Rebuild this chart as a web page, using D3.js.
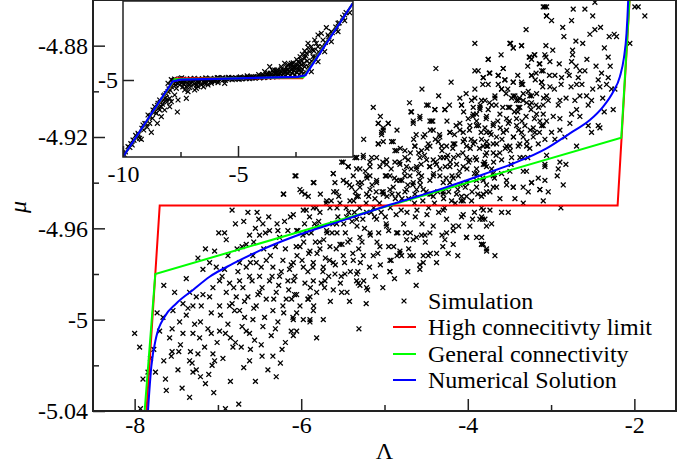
<!DOCTYPE html>
<html>
<head>
<meta charset="utf-8">
<script src="https://cdn.jsdelivr.net/npm/d3@7"></script>
<style>
  body { margin: 0; background: #fff; }
  svg text { font-family: "Liberation Serif", "Times New Roman", Times, serif; }
</style>
</head>
<body>
<div id="chart"></div>
<script>
// ---- data (Lambda, mu) ----
const lambdaDomain = [-8.5, -1.5];
const muDomain = [-5.04, -4.86];
const xMajor = [-8, -6, -4, -2];
const xMinor = [-7, -5, -3];
const yMajor = [-5.04, -5, -4.96, -4.92, -4.88];
const yMinor = [-5.02, -4.98, -4.94, -4.90];

const insetLambdaDomain = [-10, 0];
const insetMuDomain = [-7.25, -2.75];
const insetXMajor = [-10, -5];
const insetXMinor = [-7.5, -2.5];
const insetYMajor = [-5];

const legendLabels = ["Simulation", "High connecitivty limit", "General connectivity", "Numerical Solution"];

const highLimit = [[-7.858, -5.04], [-7.699, -4.95], [-2.201, -4.95], [-2.057, -4.86]];
const generalConn = [[-7.88, -5.04], [-7.752, -4.98], [-2.157, -4.9203], [-2.058, -4.86]];
const numerical = [[-7.84, -5.04], [-7.80, -5.0206], [-7.74, -5.0075], [-7.64, -4.9987], [-7.50, -4.9929],
  [-7.30, -4.987], [-7.10, -4.9812], [-6.82, -4.9755], [-6.50, -4.9698], [-6.10, -4.9638], [-5.50, -4.9565],
  [-4.935, -4.9497], [-4.30, -4.9425], [-3.80, -4.9362], [-3.454, -4.9316], [-3.054, -4.925], [-2.774, -4.9184],
  [-2.534, -4.9126], [-2.374, -4.9067], [-2.254, -4.9002], [-2.174, -4.8936], [-2.126, -4.8855],
  [-2.094, -4.8746], [-2.074, -4.86], [-2.065, -4.85]];

const simulation = [
  [-6.21,-4.945],[-6.64,-4.953],[-6.53,-4.953],[-6.79,-4.958],[-6.51,-4.956],[-6.39,-4.955],[-6.20,-4.957],[-6.55,-4.960],
  [-6.90,-4.965],[-6.62,-4.963],[-6.50,-4.963],[-6.38,-4.961],[-6.28,-4.961],[-6.16,-4.961],[-7.04,-4.970],[-7.24,-4.973],
  [-6.77,-4.969],[-6.66,-4.967],[-7.10,-4.975],[-7.18,-4.978],[-7.02,-4.977],[-6.92,-4.978],[-6.74,-4.975],[-6.66,-4.977],
  [-6.54,-4.975],[-6.42,-4.974],[-6.34,-4.977],[-6.22,-4.974],[-6.14,-4.978],[-7.65,-4.985],[-6.98,-4.983],[-6.86,-4.984],
  [-6.74,-4.983],[-6.62,-4.981],[-6.50,-4.981],[-6.38,-4.983],[-6.26,-4.981],[-6.16,-4.983],[-7.06,-4.986],[-7.34,-4.988],
  [-7.26,-4.990],[-7.10,-4.990],[-6.90,-4.988],[-6.78,-4.990],[-6.64,-4.990],[-6.50,-4.988],[-6.42,-4.991],[-6.30,-4.988],
  [-6.18,-4.991],[-7.42,-4.993],[-7.30,-4.994],[-7.20,-4.994],[-6.98,-4.994],[-6.86,-4.994],[-6.74,-4.996],[-6.54,-4.994],
  [-6.44,-4.999],[-6.34,-4.996],[-6.22,-4.994],[-7.73,-4.997],[-7.54,-4.996],[-7.66,-4.999],[-7.38,-4.998],[-7.28,-5.002],
  [-7.21,-5.001],[-7.08,-4.997],[-6.98,-5.005],[-6.88,-5.002],[-6.80,-4.996],[-6.68,-4.999],[-6.58,-5.000],[-6.46,-5.003],
  [-6.28,-5.001],[-6.10,-4.999],[-8.00,-5.006],[-7.55,-5.004],[-7.46,-5.001],[-7.42,-5.006],[-7.30,-5.006],[-7.22,-5.008],
  [-7.08,-5.006],[-7.01,-5.010],[-6.91,-5.006],[-6.79,-5.010],[-6.66,-5.005],[-6.62,-5.006],[-6.56,-5.009],[-6.36,-5.007],
  [-6.19,-5.010],[-7.94,-5.012],[-7.55,-5.014],[-7.47,-5.014],[-7.33,-5.014],[-7.16,-5.012],[-7.06,-5.015],[-6.82,-5.012],
  [-6.72,-5.012],[-6.61,-5.013],[-6.23,-5.013],[-6.34,-5.016],[-7.77,-5.013],[-7.65,-5.018],[-7.56,-5.016],[-7.34,-5.018],
  [-7.31,-5.019],[-7.04,-5.018],[-7.07,-5.020],[-6.62,-5.018],[-7.75,-5.023],[-7.84,-5.023],[-7.90,-5.026],[-7.63,-5.026],
  [-7.30,-5.023],[-7.26,-5.022],[-7.21,-5.025],[-7.15,-5.028],[-6.40,-5.022],[-7.43,-5.030],[-7.34,-5.034],[-6.75,-5.037],
  [-7.93,-5.039],[-6.91,-5.039],
  [-5.334,-4.929],[-5.255,-4.929],[-5.435,-4.933],[-5.615,-4.936],[-5.514,-4.931],[-6.075,-4.937],[-5.855,-4.940],
  [-6.215,-4.945],[-5.995,-4.944],[-5.455,-4.940],[-5.315,-4.940],[-5.595,-4.940],
  [-4.495,-4.906],[-4.395,-4.908],[-4.275,-4.908],[-4.075,-4.906],[-3.955,-4.904],[-3.855,-4.907],[-3.935,-4.910],
  [-4.675,-4.909],[-4.575,-4.911],[-4.455,-4.913],[-4.655,-4.914],[-5.075,-4.914],[-4.955,-4.914],[-5.015,-4.917],
  [-5.035,-4.919],[-4.415,-4.917],[-4.215,-4.918],[-4.095,-4.917],[-3.975,-4.915],[-3.895,-4.913],[-3.775,-4.911],
  [-5.075,-4.923],[-4.915,-4.922],[-4.855,-4.926],[-4.755,-4.926],[-4.635,-4.924],[-4.535,-4.920],[-4.475,-4.923],
  [-4.315,-4.924],[-4.155,-4.923],[-4.055,-4.922],[-3.935,-4.923],[-3.835,-4.921],[-3.775,-4.924],[-5.495,-4.931],
  [-5.355,-4.929],[-5.175,-4.931],[-5.615,-4.936],[-6.063,-4.937],[-5.847,-4.940],[-5.335,-4.934],[-5.435,-4.933],
  [-5.095,-4.929],[-4.975,-4.930],[-4.815,-4.932],[-4.715,-4.930],[-4.615,-4.933],[-4.495,-4.930],[-4.375,-4.932],
  [-4.255,-4.929],[-4.135,-4.932],[-4.015,-4.929],[-3.895,-4.930],[-3.795,-4.932],[-6.015,-4.943],[-5.915,-4.946],
  [-5.955,-4.945],[-5.695,-4.948],[-5.575,-4.944],[-5.495,-4.939],[-5.395,-4.942],[-5.275,-4.940],[-5.175,-4.937],
  [-5.095,-4.940],[-4.975,-4.937],[-4.855,-4.939],[-4.755,-4.937],[-4.655,-4.940],[-4.555,-4.937],[-4.455,-4.939],
  [-4.335,-4.937],[-4.215,-4.940],[-4.115,-4.937],[-4.015,-4.940],[-3.895,-4.939],[-3.775,-4.941],[-6.095,-4.954],
  [-5.975,-4.952],[-5.855,-4.951],[-5.775,-4.953],[-5.655,-4.951],[-5.535,-4.949],[-5.415,-4.948],[-5.315,-4.946],
  [-5.215,-4.945],[-5.115,-4.947],[-5.015,-4.945],[-4.935,-4.943],[-4.835,-4.945],[-4.735,-4.943],[-4.635,-4.945],
  [-4.535,-4.943],[-4.415,-4.946],[-4.295,-4.945],[-4.195,-4.948],[-4.075,-4.946],[-3.955,-4.948],[-3.835,-4.946],
  [-4.055,-4.954],[-3.943,-4.956],[-3.823,-4.956],[-4.175,-4.959],[-4.255,-4.962],[-4.515,-4.963],[-4.615,-4.964],
  [-4.015,-4.964],[-3.835,-4.967],[-4.175,-4.967],[-4.375,-4.975],[-4.535,-4.972],[-4.475,-4.972],[-4.655,-4.972],
  [-4.575,-4.976],[-4.935,-4.974],[-4.935,-4.979],[-4.815,-4.971],[-4.735,-4.965],[-4.855,-4.962],[-4.975,-4.959],
  [-5.095,-4.956],[-5.215,-4.953],[-5.335,-4.956],[-5.455,-4.955],[-5.575,-4.958],[-5.695,-4.961],[-5.815,-4.959],
  [-5.935,-4.962],[-6.055,-4.961],[-5.175,-4.962],[-5.295,-4.964],[-5.415,-4.965],[-5.535,-4.967],[-5.655,-4.968],
  [-5.775,-4.969],[-5.895,-4.970],[-6.015,-4.968],[-5.055,-4.968],[-5.135,-4.972],[-5.255,-4.972],[-5.375,-4.974],
  [-5.495,-4.972],[-5.615,-4.975],[-5.735,-4.977],[-5.855,-4.975],[-5.975,-4.977],[-6.095,-4.975],[-5.335,-4.980],
  [-5.475,-4.980],[-5.595,-4.980],[-5.715,-4.983],[-5.855,-4.983],[-5.955,-4.984],[-6.075,-4.981],[-5.315,-4.984],
  [-5.203,-4.987],[-5.515,-4.988],[-5.615,-4.987],[-5.815,-4.988],[-6.055,-4.989],[-5.895,-4.990],
  [-6.115,-4.991],[-6.055,-4.997],[-6.095,-5.000],[-5.975,-5.000],[-5.895,-5.000],[-6.055,-5.005],[-6.095,-5.007],
  [-5.895,-5.001],[-5.735,-5.000],[-5.815,-5.008],[-5.307,-5.004],[-6.015,-4.994],[-5.915,-4.991],[-5.855,-4.996],
  [-4.935,-4.979],[-4.575,-4.978],[-4.535,-4.975],[-4.375,-4.971],[-4.235,-4.971],[-4.275,-4.965],[-4.015,-4.964],
  [-3.895,-4.964],[-3.835,-4.967],[-3.775,-4.969],[-4.655,-4.965],[-4.555,-4.963],[-4.455,-4.962],[-4.695,-4.972],
  [-4.815,-4.970],[-4.795,-4.972],[-5.215,-4.986],[-5.335,-4.983],[-5.295,-4.985],[-4.415,-4.959],[-4.255,-4.956],
  [-4.175,-4.961],[-4.075,-4.955],[-3.975,-4.959],[-3.855,-4.956],[-3.775,-4.959],[-4.295,-4.952],[-4.055,-4.948],
  [-3.835,-4.951],
  [-3.075,-4.863],[-3.055,-4.867],[-3.915,-4.879],[-3.495,-4.879],[-3.455,-4.881],[-3.355,-4.880],[-3.255,-4.885],
  [-3.195,-4.884],[-3.075,-4.884],[-3.135,-4.888],[-3.755,-4.886],[-4.383,-4.890],[-3.915,-4.891],[-3.875,-4.891],
  [-3.735,-4.892],[-3.575,-4.890],[-3.815,-4.894],[-3.635,-4.893],[-3.555,-4.895],[-3.455,-4.896],[-3.355,-4.897],
  [-3.235,-4.893],[-3.115,-4.896],[-3.095,-4.891],[-3.755,-4.897],[-3.915,-4.899],[-3.595,-4.899],[-4.095,-4.903],
  [-3.915,-4.903],[-3.835,-4.904],[-3.675,-4.903],[-3.455,-4.902],[-3.255,-4.902],[-3.335,-4.904],[-3.235,-4.905],
  [-3.415,-4.904],[-5.135,-4.907],[-4.475,-4.906],[-4.395,-4.908],[-4.275,-4.908],[-4.075,-4.906],[-3.935,-4.907],
  [-3.855,-4.908],[-3.755,-4.908],[-3.495,-4.907],[-3.375,-4.907],[-3.095,-4.906],[-4.683,-4.909],[-4.575,-4.912],
  [-4.655,-4.913],[-4.435,-4.913],[-3.995,-4.912],[-3.895,-4.910],[-3.695,-4.915],[-3.535,-4.912],[-3.415,-4.912],
  [-3.175,-4.910],[-3.055,-4.913],[-5.075,-4.914],[-4.955,-4.914],[-5.015,-4.916],[-5.035,-4.918],[-4.515,-4.919],
  [-4.335,-4.920],[-4.215,-4.918],[-4.095,-4.914],[-4.055,-4.918],[-3.895,-4.915],[-3.775,-4.918],[-3.655,-4.920],
  [-3.535,-4.917],[-3.335,-4.920],[-3.195,-4.918],[-3.095,-4.915],[-5.075,-4.923],[-5.015,-4.922],[-4.895,-4.922],
  [-4.635,-4.924],[-4.555,-4.926],[-4.455,-4.924],[-4.355,-4.922],[-4.255,-4.924],[-4.175,-4.923],[-4.015,-4.924],
  [-3.915,-4.922],[-3.815,-4.924],[-3.695,-4.923],[-3.495,-4.924],[-3.375,-4.923],[-3.255,-4.925],[-5.335,-4.929],
  [-5.255,-4.928],[-5.155,-4.929],[-4.875,-4.926],[-4.755,-4.929],[-4.875,-4.931],[-4.575,-4.929],[-4.415,-4.930],
  [-4.295,-4.929],[-4.115,-4.928],[-3.975,-4.930],[-3.615,-4.927],[-3.335,-4.929],[-3.295,-4.935],[-3.235,-4.940],
  [-3.135,-4.943],[-3.335,-4.942],[-3.455,-4.942],[-3.535,-4.939],[-3.695,-4.936],[-3.775,-4.933],[-3.895,-4.934],
  [-4.055,-4.933],[-4.215,-4.933],[-4.335,-4.934],[-4.455,-4.933],[-4.615,-4.934],[-4.735,-4.933],[-4.975,-4.932],
  [-5.055,-4.933],[-5.175,-4.933],[-5.295,-4.934],[-5.375,-4.937],[-5.215,-4.937],[-5.095,-4.939],[-4.935,-4.937],
  [-4.815,-4.939],[-4.695,-4.937],[-4.575,-4.939],[-4.415,-4.937],[-4.295,-4.940],[-4.175,-4.938],[-4.015,-4.940],
  [-3.895,-4.942],[-3.775,-4.944],[-3.655,-4.942],[-5.295,-4.942],[-5.175,-4.943],[-5.015,-4.944],[-4.895,-4.942],
  [-4.755,-4.944],[-4.615,-4.943],[-4.455,-4.945],[-4.295,-4.944],[-4.135,-4.945],[-4.015,-4.946],[-5.335,-4.946],
  [-3.094,-4.863],[-3.054,-4.863],[-2.734,-4.864],[-2.594,-4.864],[-2.474,-4.861],[-3.054,-4.867],[-2.994,-4.869],
  [-2.754,-4.869],[-1.994,-4.863],[-1.954,-4.863],[-1.874,-4.867],[-2.534,-4.875],[-2.474,-4.873],[-2.406,-4.872],
  [-2.846,-4.876],[-2.702,-4.878],[-2.302,-4.876],[-2.242,-4.875],[-2.214,-4.876],[-2.054,-4.879],[-3.486,-4.879],
  [-3.454,-4.881],[-3.354,-4.880],[-3.062,-4.880],[-2.742,-4.882],[-2.742,-4.884],[-2.754,-4.887],[-2.314,-4.885],
  [-3.754,-4.886],[-3.262,-4.885],[-3.202,-4.884],[-3.234,-4.886],[-3.062,-4.885],[-3.142,-4.888],[-3.014,-4.887],
  [-2.902,-4.888],[-3.114,-4.891],[-3.574,-4.890],[-2.654,-4.891],[-2.594,-4.891],[-2.806,-4.891],[-3.234,-4.893],
  [-2.954,-4.893],[-2.874,-4.894],[-2.782,-4.893],[-2.674,-4.894],[-2.394,-4.892],[-3.814,-4.894],[-3.742,-4.892],
  [-3.634,-4.893],[-3.554,-4.895],[-3.454,-4.896],[-3.354,-4.896],[-3.114,-4.896],[-3.014,-4.898],[-2.694,-4.897],
  [-2.434,-4.895],[-2.314,-4.894],[-2.414,-4.898],[-2.334,-4.897],[-2.274,-4.899],[-2.234,-4.899],[-3.634,-4.897],
  [-3.594,-4.899],[-3.674,-4.902],[-3.794,-4.904],[-3.714,-4.906],[-3.474,-4.903],[-3.434,-4.902],[-3.394,-4.904],
  [-3.334,-4.901],[-3.274,-4.900],[-3.234,-4.902],[-3.174,-4.901],[-3.294,-4.905],[-3.254,-4.906],[-3.054,-4.902],
  [-3.034,-4.904],[-2.894,-4.904],[-2.714,-4.904],[-2.654,-4.902],[-2.574,-4.902],[-2.514,-4.904],[-2.554,-4.906],
  [-2.254,-4.908],[-2.362,-4.909],[-2.694,-4.908],[-2.914,-4.906],[-3.514,-4.907],[-3.394,-4.907],[-3.614,-4.910],
  [-3.094,-4.910],[-2.974,-4.911],[-2.894,-4.912],[-2.754,-4.910],[-2.654,-4.911],[-2.554,-4.915],[-2.434,-4.915],
  [-2.414,-4.916],[-2.514,-4.918],[-2.694,-4.924],[-2.834,-4.920],[-2.994,-4.918],[-2.894,-4.917],[-2.774,-4.914],
  [-3.134,-4.913],[-3.114,-4.915],[-3.214,-4.916],[-3.314,-4.915],[-3.414,-4.915],[-3.514,-4.914],[-3.694,-4.914],
  [-3.794,-4.916],[-3.734,-4.918],[-3.574,-4.918],[-3.454,-4.920],[-3.354,-4.918],[-3.214,-4.920],[-3.074,-4.921],
  [-2.954,-4.921],[-3.774,-4.922],[-3.654,-4.923],[-3.534,-4.924],[-3.394,-4.924],[-3.294,-4.924],[-3.154,-4.923],
  [-3.774,-4.927],[-3.694,-4.927],[-3.814,-4.932],[-3.714,-4.934],[-3.594,-4.930],[-3.474,-4.929],[-3.374,-4.929],
  [-3.054,-4.928],[-2.894,-4.931],[-2.822,-4.932],[-3.074,-4.932],[-3.074,-4.933],[-2.914,-4.934],[-3.334,-4.935],
  [-2.926,-4.937],[-3.494,-4.935],[-3.594,-4.936],[-3.694,-4.937],[-3.814,-4.939],[-3.154,-4.938],[-3.074,-4.939],
  [-3.234,-4.940],[-2.854,-4.941],[-3.134,-4.943],[-3.034,-4.944],[-3.274,-4.944],[-3.454,-4.942],[-3.534,-4.941],
  [-3.694,-4.942],[-3.814,-4.945],[-3.734,-4.944],[-3.614,-4.947],[-3.434,-4.947],[-3.334,-4.949],[-3.094,-4.948],
  [-2.882,-4.951],[-3.814,-4.952],[-3.734,-4.952],[-3.594,-4.953],[-3.514,-4.953],[-3.834,-4.955],[-3.794,-4.956],
  [-3.714,-4.958],[-3.834,-4.964],[-3.814,-4.967],[-3.774,-4.970],[-3.674,-4.972],
  [-6.05,-4.972],[-5.97,-4.966],[-5.92,-4.979],[-5.88,-4.962],[-5.81,-4.971],[-5.76,-4.984],[-5.73,-4.965],[-5.66,-4.974],
  [-5.62,-4.958],[-5.58,-4.969],[-5.52,-4.981],[-5.47,-4.962],[-5.43,-4.953],[-5.38,-4.971],[-5.33,-4.959],[-5.27,-4.966],
  [-5.22,-4.949],[-5.18,-4.977],[-5.12,-4.955],[-5.07,-4.962],[-5.03,-4.944],[-4.98,-4.958],[-4.93,-4.951],[-4.88,-4.938],
  [-4.84,-4.962],[-4.79,-4.947],[-4.73,-4.953],[-4.68,-4.934],[-4.64,-4.949],[-4.57,-4.941],[-4.52,-4.928],[-4.47,-4.951],
  [-4.41,-4.936],[-4.36,-4.944],[-4.31,-4.926],[-4.26,-4.938],[-4.21,-4.931],[-4.16,-4.919],[-4.12,-4.943],[-4.06,-4.927],
  [-4.01,-4.934],[-3.96,-4.921],[-3.91,-4.929],[-3.87,-4.915],[-3.82,-4.938],[-3.76,-4.924],[-6.31,-4.968],[-6.27,-4.985],
  [-6.12,-4.976],[-6.08,-4.989],[-6.45,-4.969],[-6.58,-4.972],[-6.70,-4.986],[-6.47,-4.986],[-5.90,-4.955],[-5.70,-4.949],
  [-5.55,-4.946],[-5.35,-4.944],[-5.15,-4.941],[-4.95,-4.968],[-4.75,-4.962],[-4.55,-4.958],[-4.35,-4.953],[-4.15,-4.949],
  [-3.95,-4.944],[-5.25,-4.983],[-5.05,-4.976],[-4.85,-4.972],[-5.45,-4.988],[-5.65,-4.992],[-5.85,-4.994],[-4.65,-4.921],
  [-4.45,-4.917],[-4.25,-4.913],[-4.05,-4.909],[-3.85,-4.906],
  [-6.95,-4.981],[-6.88,-4.972],[-6.83,-4.993],[-6.76,-4.979],[-6.71,-4.968],[-6.68,-4.992],[-6.61,-4.975],[-6.57,-4.966],
  [-6.52,-4.989],[-6.48,-4.977],[-6.43,-4.962],[-6.37,-4.972],[-6.33,-4.991],[-6.29,-4.958],[-6.24,-4.979],[-6.19,-4.969],
  [-6.13,-4.955],[-6.09,-4.983],[-6.04,-4.961],[-5.99,-4.974],[-5.94,-4.952],[-5.89,-4.986],[-5.83,-4.966],[-5.79,-4.957],
  [-5.74,-4.979],[-5.69,-4.962],[-5.64,-4.948],[-5.59,-4.976],[-5.56,-4.955],[-5.51,-4.967],[-5.46,-4.951],[-5.41,-4.979],
  [-5.37,-4.948],[-5.31,-4.969],[-5.26,-4.956],[-5.21,-4.938],[-5.17,-4.963],[-5.13,-4.951],[-5.08,-4.971],[-5.04,-4.953],
  [-4.99,-4.937],[-4.95,-4.961],[-4.91,-4.945],[-4.86,-4.954],[-4.82,-4.931],[-4.77,-4.958],[-4.72,-4.941],[-4.69,-4.927],
  [-4.63,-4.955],[-4.59,-4.936],[-4.54,-4.948],[-4.49,-4.925],[-4.44,-4.945],[-4.39,-4.931],[-4.34,-4.919],[-4.29,-4.947],
  [-4.24,-4.928],[-4.19,-4.937],[-4.14,-4.915],[-4.09,-4.941],[-4.04,-4.921],[-3.99,-4.931],[-3.94,-4.911],[-3.89,-4.936],
  [-3.84,-4.918],[-3.79,-4.928],[-3.74,-4.905],[-3.69,-4.931],[-3.64,-4.913],[-3.59,-4.921],[-3.54,-4.901],[-3.49,-4.926],
  [-3.44,-4.909],[-3.39,-4.917],[-3.34,-4.897],[-3.29,-4.922],[-3.24,-4.908],[-3.19,-4.895],[-3.14,-4.918],[-3.09,-4.903],
  [-6.92,-4.962],[-6.81,-4.986],[-6.69,-4.957],[-6.59,-4.983],[-6.46,-4.958],[-6.35,-4.981],[-6.26,-4.964],[-6.15,-4.987],
  [-6.06,-4.968],[-5.96,-4.958],[-5.86,-4.977],[-5.77,-4.945],[-5.67,-4.981],[-5.57,-4.962],[-5.48,-4.975],[-5.39,-4.957],
  [-5.29,-4.975],[-5.19,-4.946],[-5.09,-4.966],[-4.99,-4.955],[-4.89,-4.968],[-4.79,-4.939],[-4.69,-4.962],[-4.59,-4.927],
  [-4.49,-4.954],[-4.39,-4.921],[-4.28,-4.951],[-4.18,-4.925],[-4.08,-4.948],[-3.98,-4.917],[-3.88,-4.945],[-3.78,-4.912],
  [-3.68,-4.938],[-3.58,-4.907],[-3.48,-4.932],[-3.38,-4.903],[-3.28,-4.929],[-3.18,-4.906],
  [-5.82,-4.951],[-5.61,-4.944],[-5.42,-4.941],[-5.23,-4.935],[-5.02,-4.931],[-4.81,-4.925],[-4.62,-4.919],[-4.42,-4.913],
  [-4.22,-4.906],[-4.02,-4.901],[-3.82,-4.897],[-5.92,-4.991],[-5.72,-4.986],[-5.53,-4.984],[-5.32,-4.979],[-5.11,-4.981],
  [-4.92,-4.974],[-4.71,-4.969],[-4.51,-4.966],[-4.31,-4.963],[-4.11,-4.959],[-3.92,-4.953],
  [-7.36,-4.995],[-7.18,-4.989],[-7.12,-5.004],[-6.97,-4.998],[-6.85,-5.008],[-6.71,-5.003],[-6.57,-4.995],[-6.48,-5.011],
  [-6.31,-5.004],[-6.21,-4.997],[-6.12,-5.005],[-7.45,-5.011],[-7.24,-5.015],[-6.94,-5.017],[-6.69,-5.021],[-6.47,-5.016],
  [-6.25,-5.019],[-7.11,-5.024],[-6.85,-5.027],[-7.38,-4.982],[-7.15,-4.969],[-6.99,-4.962],[-6.83,-4.952],[-7.52,-4.988],
  [-7.58,-5.008],[-7.70,-5.005],[-7.81,-5.017],[-7.62,-5.031],[-7.48,-5.022],[-7.05,-5.032],[-6.55,-5.027],[-6.30,-5.025],
  [-5.98,-4.963],[-5.91,-4.971],[-5.84,-4.958],[-5.78,-4.966],[-5.71,-4.973],[-5.63,-4.962],[-5.57,-4.951],[-5.49,-4.958],
  [-5.44,-4.966],[-5.36,-4.953],[-5.30,-4.951],[-5.24,-4.960],[-5.16,-4.953],[-5.10,-4.944],[-5.06,-4.949],[-4.97,-4.946],
  [-4.92,-4.934],[-4.87,-4.947],[-4.80,-4.952],[-4.76,-4.935],[-4.71,-4.947],[-4.66,-4.941],[-4.61,-4.952],[-4.56,-4.932],
  [-4.50,-4.944],[-4.46,-4.933],[-4.40,-4.949],[-4.33,-4.929],[-4.27,-4.933],[-4.23,-4.944],[-4.17,-4.929],[-4.10,-4.935],
  [-4.03,-4.942],[-3.97,-4.925],[-3.92,-4.936],[-3.86,-4.925],[-3.80,-4.931],[-3.72,-4.919],[-3.66,-4.928],[-3.61,-4.916],
  [-3.55,-4.925],[-3.50,-4.913],[-3.45,-4.920],[-3.40,-4.909],[-3.35,-4.913],[-3.30,-4.911],[-3.25,-4.917],[-3.20,-4.912],
  [-3.15,-4.907],[-3.10,-4.898],
  [-3.02,-4.893],[-2.96,-4.899],[-2.88,-4.897],[-2.82,-4.903],[-2.76,-4.898],[-2.70,-4.889],[-2.63,-4.897],[-2.57,-4.886],
  [-2.50,-4.899],[-2.46,-4.889],[-2.38,-4.903],[-2.29,-4.889],[-3.18,-4.892],[-3.28,-4.889],[-3.40,-4.893],[-3.52,-4.899],
  [-3.66,-4.906],[-2.98,-4.882],[-2.86,-4.872],[-2.62,-4.879],[-2.50,-4.867],[-2.36,-4.881],[-3.30,-4.873],[-3.60,-4.884],
  [-5.42,-4.992],[-5.22,-4.993],[-5.02,-4.986],[-4.88,-4.982],[-4.72,-4.979],[-4.62,-4.985],[-4.45,-4.971],[-4.30,-4.968],
  [-4.12,-4.972],[-5.25,-4.921],[-5.05,-4.911],[-4.85,-4.917],[-4.70,-4.905],[-4.55,-4.899],[-4.35,-4.902],[-4.20,-4.896]
];

const insetHigh = [[-10, -7.25], [-7.70, -4.95], [-2.20, -4.95], [0, -2.75]];
const insetGeneral = [[-10, -7.25], [-7.75, -4.98], [-2.16, -4.92], [0, -2.75]];
const insetNumerical = [[-10, -7.25], [-7.84, -5.04], [-7.5, -4.99], [-5, -4.95], [-2.4, -4.91], [-2.07, -4.86], [0, -2.75]];

const insetSimulation = [
  [-9.782,-6.948],[-9.565,-6.753],[-9.348,-6.558],[-9.275,-6.704],[-9.203,-6.733],[-9.130,-6.315],[-8.913,-6.022],
  [-8.768,-6.529],[-8.696,-5.876],[-8.623,-5.779],[-8.507,-6.266],[-8.478,-5.681],[-8.406,-5.876],[-8.333,-6.071],
  [-8.261,-5.584],[-8.188,-5.438],[-8.116,-5.584],[-8.043,-5.340],[-7.971,-5.535],[-7.898,-5.194],[-8.043,-5.097],
  [-7.637,-5.935],[-7.246,-5.535],[-8.333,-5.779],[-8.550,-5.974],[-8.188,-5.876],[-8.406,-5.584],[-7.971,-5.779],
  [-7.826,-5.097],[-7.681,-5.243],[-7.536,-5.146],[-7.319,-5.292],[-7.246,-5.194],[-7.391,-5.048],[-7.101,-5.146],
  [-6.884,-5.292],[-6.739,-5.194],[-6.594,-5.146],[-6.449,-5.097],[-6.159,-5.097],[-6.014,-5.048],[-7.753,-5.438],
  [-7.608,-5.584],[-7.898,-5.633],[-8.840,-6.266],[-6.811,-5.243],[-7.174,-5.340],[-6.304,-5.146],[-5.870,-5.077],
  [-5.579,-5.097],[-9.90,-7.10],[-9.66,-6.86],[-9.45,-6.62],[-9.05,-6.27],[-8.85,-6.08],[-8.60,-5.92],[-8.30,-5.62],
  [-3.840,-4.756],[-3.623,-4.610],[-3.406,-4.707],[-3.116,-4.610],[-2.971,-4.513],[-2.826,-4.561],[-2.681,-4.513],
  [-2.536,-4.610],[-2.391,-4.464],[-2.246,-4.561],[-2.101,-4.367],[-2.029,-4.220],[-1.884,-4.172],[-1.812,-4.026],
  [-1.956,-3.928],[-1.667,-3.831],[-1.522,-3.685],[-1.377,-3.636],[-1.159,-3.470],[-0.942,-3.587],[-0.725,-3.539],
  [-1.522,-4.026],[-1.739,-4.318],[-3.623,-4.902],[-3.261,-4.854],[-2.971,-4.756],[-2.681,-4.707],[-2.319,-4.707],
  [-2.101,-4.610],[-1.884,-4.513],[-1.739,-4.123],[-1.594,-3.928],[-1.304,-3.831],[-1.087,-3.685],[-0.652,-3.344],
  [-0.362,-3.100],[-1.812,-4.756],[-1.522,-4.464],[-1.232,-4.172],[-0.942,-3.880],[-0.652,-3.587],[-0.362,-3.266],
  [-0.145,-3.032],
  [-7.82,-5.02],[-7.76,-4.97],[-7.71,-5.06],[-7.65,-4.99],[-7.58,-5.04],[-7.52,-4.96],[-7.47,-5.08],[-7.41,-5.01],
  [-7.36,-4.97],[-7.30,-5.05],[-7.24,-4.99],[-7.18,-5.10],[-7.13,-5.02],[-7.07,-4.96],[-7.01,-5.04],[-6.95,-5.00],
  [-6.90,-5.12],[-6.84,-4.98],[-6.78,-5.03],[-6.72,-4.97],[-6.66,-5.06],[-6.60,-5.00],[-6.55,-4.96],[-6.49,-5.03],
  [-6.43,-4.98],[-6.37,-5.05],[-6.31,-4.97],[-6.25,-5.01],[-6.20,-4.96],[-6.14,-5.02],[-6.08,-4.98],[-6.02,-4.95],
  [-5.96,-5.00],[-5.90,-4.97],[-5.85,-4.94],[-5.79,-4.99],[-5.72,-4.96],[-5.66,-4.93],[-5.60,-4.98],[-5.54,-4.95],
  [-5.47,-4.97],[-5.41,-4.94],[-5.35,-4.96],[-5.28,-4.93],[-5.22,-4.95],[-5.15,-4.97],[-5.09,-4.94],[-5.02,-4.96],
  [-4.96,-4.93],[-4.90,-4.95],[-4.83,-4.97],[-4.77,-4.94],[-4.70,-4.92],[-4.64,-4.95],[-4.58,-4.93],[-4.51,-4.96],
  [-4.45,-4.92],[-4.38,-4.94],[-4.32,-4.91],[-4.26,-4.95],[-4.19,-4.92],[-4.13,-4.90],[-4.06,-4.94],[-4.00,-4.91],
  [-3.94,-4.88],[-3.87,-4.93],[-3.81,-4.90],[-3.75,-4.86],[-3.68,-4.92],[-3.62,-4.88],[-3.55,-4.84],[-3.49,-4.91],
  [-3.42,-4.87],[-3.36,-4.82],[-3.30,-4.90],[-3.23,-4.85],[-3.17,-4.80],[-3.10,-4.88],[-3.04,-4.83],[-2.97,-4.78],
  [-2.91,-4.87],[-2.84,-4.81],[-2.78,-4.75],[-2.71,-4.86],[-2.65,-4.80],[-2.58,-4.73],[-2.52,-4.85],[-2.45,-4.78],
  [-2.39,-4.70],[-2.32,-4.84],[-2.26,-4.76],[-2.20,-4.68],[-2.14,-4.80],
  [-9.95,-7.18],[-9.70,-6.97],[-9.52,-6.76],[-9.33,-6.60],[-9.18,-6.41],[-9.00,-6.27],[-8.82,-6.05],[-8.66,-5.95],
  [-8.50,-5.74],[-8.38,-5.66],[-8.24,-5.47],[-8.12,-5.40],[-8.00,-5.26],[-7.90,-5.14],[-7.80,-5.09],[-8.15,-5.52],
  [-8.28,-5.71],[-8.45,-5.83],[-8.72,-6.12],[-8.95,-6.38],[-9.10,-6.46],[-9.40,-6.70],[-9.60,-6.90],
  [-7.60,-5.10],[-7.35,-5.13],[-7.05,-5.09],[-6.75,-5.07],[-6.45,-5.06],[-6.15,-5.05],[-5.85,-5.03],[-5.55,-5.01],
  [-5.25,-4.99],[-4.95,-4.98],[-4.65,-4.96],[-4.35,-4.93],[-4.05,-4.89],[-3.75,-4.83],[-3.45,-4.78],[-3.15,-4.74],
  [-2.85,-4.69],[-2.55,-4.66],[-2.35,-4.60],[-2.15,-4.52],[-3.60,-4.80],[-3.30,-4.76],[-3.00,-4.72],[-2.70,-4.63],
  [-2.45,-4.55],[-2.25,-4.42],[-7.90,-4.99],[-7.45,-4.94],[-6.90,-4.95],[-6.40,-4.94],[-5.90,-4.93],[-5.40,-4.92],
  [-4.90,-4.91],[-4.40,-4.90],[-3.90,-4.85],[-3.40,-4.80],[-2.90,-4.73],[-2.40,-4.64],
  [-1.95,-4.62],[-1.80,-4.45],[-1.65,-4.32],[-1.50,-4.18],[-1.35,-4.02],[-1.20,-3.90],[-1.05,-3.74],[-0.90,-3.62],
  [-0.75,-3.45],[-0.60,-3.33],[-0.45,-3.17],[-0.30,-3.03],[-2.00,-4.45],[-1.70,-4.15],
  [-3.30,-4.70],[-3.10,-4.67],[-2.90,-4.62],[-2.75,-4.55],[-2.60,-4.50],[-2.45,-4.40],[-2.30,-4.32],[-2.20,-4.25],
  [-2.10,-4.15],[-1.95,-4.05],[-2.05,-4.30],[-2.30,-4.50],[-2.60,-4.62],[-2.85,-4.70],[-3.50,-4.72],[-3.70,-4.80],
  [-4.10,-4.84],[-4.60,-4.88],[-7.70,-5.15],[-7.40,-5.20],[-7.10,-5.22],[-6.80,-5.15],[-6.50,-5.20],[-7.95,-5.30],
  [-8.10,-5.65]
];

// ---- layout ----
const fontFamily = "Liberation Serif";
const margin = {top: 0, right: 13, bottom: 53, left: 93},
      width = 689 - margin.left - margin.right,
      height = 464 - margin.top - margin.bottom;

const svg = d3.select("#chart")
  .append("svg")
    .attr("width", 689)
    .attr("height", 464);

const g = svg.append("g")
    .attr("transform", `translate(${margin.left},${margin.top})`);

const x = d3.scaleLinear().domain(lambdaDomain).range([0, width]);
const y = d3.scaleLinear().domain(muDomain).range([height, 0]);

g.append("clipPath").attr("id", "clipMain")
  .append("rect").attr("width", width).attr("height", height);

// x-shaped marker used for the simulation points
const cross = "M-2.4,-2.4L2.4,2.4M-2.4,2.4L2.4,-2.4";
const plot = g.append("g").attr("clip-path", "url(#clipMain)");

plot.selectAll("path.sim")
  .data(simulation)
  .enter()
  .append("path")
    .attr("class", "sim")
    .attr("transform", d => `translate(${x(d[0])},${y(d[1])})`)
    .attr("d", cross)
    .attr("stroke", "#000")
    .attr("stroke-width", 1.3);

const line = d3.line().x(d => x(d[0])).y(d => y(d[1]));
const smooth = d3.line().x(d => x(d[0])).y(d => y(d[1])).curve(d3.curveMonotoneX);

plot.append("path").datum(highLimit)
  .attr("fill", "none").attr("stroke", "#ff0000").attr("stroke-width", 2).attr("d", line);
plot.append("path").datum(generalConn)
  .attr("fill", "none").attr("stroke", "#00ff00").attr("stroke-width", 2).attr("d", line);
plot.append("path").datum(numerical)
  .attr("fill", "none").attr("stroke", "#0000ff").attr("stroke-width", 2).attr("d", smooth);

function styleAxis(sel) {
  sel.select(".domain").remove();
  sel.attr("font-family", null);
  sel.selectAll("line").attr("stroke", "#222").attr("stroke-width", 1.5);
  sel.selectAll("text")
    .style("font-family", fontFamily)
    .attr("font-size", 24)
    .attr("fill", "#000");
}

// X axis
g.append("g")
    .attr("transform", `translate(0,${height})`)
    .call(d3.axisBottom(x).tickValues(xMajor).tickSize(-12).tickPadding(5).tickFormat(d => String(d)))
    .call(styleAxis);
g.append("g")
    .attr("transform", `translate(0,${height})`)
    .call(d3.axisBottom(x).tickValues(xMinor).tickSize(-6).tickFormat(""))
    .call(styleAxis);

// Y axis
g.append("g")
    .call(d3.axisLeft(y).tickValues(yMajor).tickSize(-12).tickPadding(5).tickFormat(d => String(d)))
    .call(styleAxis);
g.append("g")
    .call(d3.axisLeft(y).tickValues(yMinor).tickSize(-6).tickFormat(""))
    .call(styleAxis);

// frame
g.append("rect")
    .attr("width", width).attr("height", height)
    .attr("fill", "none").attr("stroke", "#222").attr("stroke-width", 2);

// axis titles
svg.append("text")
    .attr("text-anchor", "middle")
    .attr("transform", "translate(26,207) rotate(-90)")
    .style("font-family", fontFamily)
    .attr("font-style", "italic")
    .attr("font-size", 24)
    .text("μ");

svg.append("text")
    .attr("text-anchor", "middle")
    .attr("x", margin.left + width / 2)
    .attr("y", 459)
    .style("font-family", fontFamily)
    .attr("font-size", 24)
    .text("Λ");

// legend
const legendRows = [301, 327, 354, 380];
const legendColors = [null, "#ff0000", "#00ff00", "#0000ff"];
const legend = svg.append("g");
legendLabels.forEach((label, i) => {
  const ly = legendRows[i];
  if (i === 0) {
    legend.append("path")
      .attr("transform", `translate(404,${ly})`)
      .attr("d", cross).attr("stroke", "#000").attr("stroke-width", 1.3);
  } else {
    legend.append("line")
      .attr("x1", 393).attr("x2", 416).attr("y1", ly).attr("y2", ly)
      .attr("stroke", legendColors[i]).attr("stroke-width", 2);
  }
  legend.append("text")
    .attr("x", 428).attr("y", ly + 8)
    .style("font-family", fontFamily)
    .attr("font-size", 24)
    .text(label);
});

// ---- inset ----
const ix = d3.scaleLinear().domain(insetLambdaDomain).range([123, 353]);
const iy = d3.scaleLinear().domain(insetMuDomain).range([157, 3]);
const inset = svg.append("g");

inset.append("rect")
    .attr("x", 123).attr("y", 1).attr("width", 230).attr("height", 156)
    .attr("fill", "#fff");

inset.append("clipPath").attr("id", "clipInset")
  .append("rect").attr("x", 123).attr("y", 1).attr("width", 230).attr("height", 156);

const iplot = inset.append("g").attr("clip-path", "url(#clipInset)");

iplot.selectAll("path.isim")
  .data(insetSimulation)
  .enter()
  .append("path")
    .attr("class", "isim")
    .attr("transform", d => `translate(${ix(d[0])},${iy(d[1])})`)
    .attr("d", cross)
    .attr("stroke", "#000")
    .attr("stroke-width", 1.2);

const iline = d3.line().x(d => ix(d[0])).y(d => iy(d[1]));
iplot.append("path").datum(insetHigh)
  .attr("fill", "none").attr("stroke", "#ff0000").attr("stroke-width", 2).attr("d", iline);
iplot.append("path").datum(insetGeneral)
  .attr("fill", "none").attr("stroke", "#00ff00").attr("stroke-width", 2).attr("d", iline);
iplot.append("path").datum(insetNumerical)
  .attr("fill", "none").attr("stroke", "#0000ff").attr("stroke-width", 2.2).attr("d", iline);

inset.append("g")
    .attr("transform", "translate(0,157)")
    .call(d3.axisBottom(ix).tickValues(insetXMajor).tickSize(-11).tickPadding(8).tickFormat(d => String(d)))
    .call(styleAxis);
inset.append("g")
    .attr("transform", "translate(0,157)")
    .call(d3.axisBottom(ix).tickValues(insetXMinor).tickSize(-5).tickFormat(""))
    .call(styleAxis);
inset.append("g")
    .attr("transform", "translate(123,0)")
    .call(d3.axisLeft(iy).tickValues(insetYMajor).tickSize(-11).tickPadding(5).tickFormat(d => String(d)))
    .call(styleAxis);

inset.append("rect")
    .attr("x", 123).attr("y", 1).attr("width", 230).attr("height", 156)
    .attr("fill", "none").attr("stroke", "#222").attr("stroke-width", 1.5);
</script>
</body>
</html>
